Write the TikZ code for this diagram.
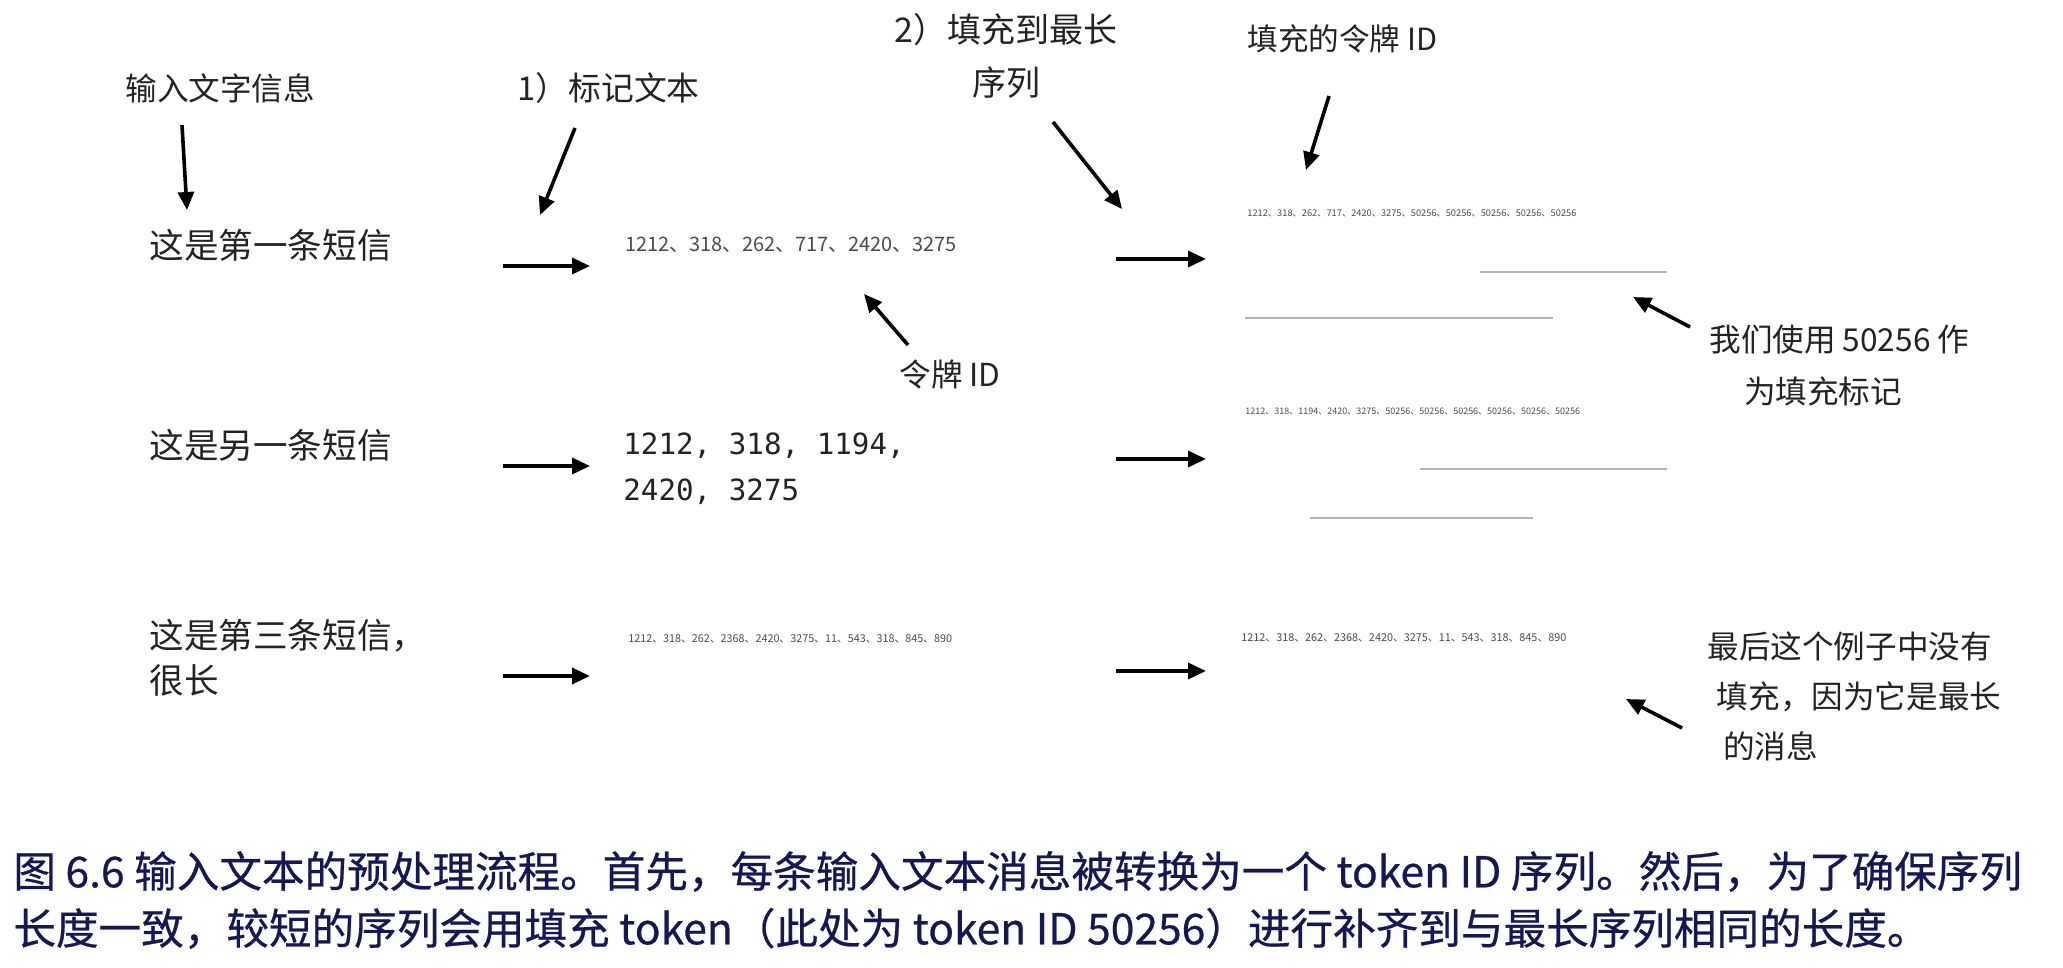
\documentclass[tikz,border=0pt]{standalone}
\usepackage{fontspec}
\setmainfont{Noto Sans CJK SC}
\setmonofont{DejaVu Sans Mono}
\newfontfamily\capfont[FakeBold=0.6]{Noto Sans CJK SC}
\usepackage{tikz}
\usetikzlibrary{arrows.meta, positioning}
\definecolor{mytext}{RGB}{35,35,35}
\definecolor{mytoken}{RGB}{75,75,75}
\definecolor{mycap}{RGB}{22,22,88}
\definecolor{mysmudge}{RGB}{130,130,130}
\tikzset{
  msgtext/.style={anchor=west, inner sep=0pt, font=\fontsize{17.3}{22.5}\selectfont, text=mytext},
  notetext/.style={anchor=west, inner sep=0pt, align=left, font=\fontsize{15.8}{25}\selectfont, text=mytext},
  tokentext/.style={anchor=west, inner sep=0pt, text=mytoken},
  codetext/.style={anchor=west, inner sep=0pt, align=left,
    font=\ttfamily\fontsize{14.6}{23}\selectfont, text=mytext},
  captext/.style={anchor=west, inner sep=0pt, align=left,
    font=\capfont\fontsize{21.3}{28.5}\selectfont, text=mycap},
  arrow/.style={-{Triangle[length=9pt,width=8pt]}, line width=1.8pt, color=black},
  smudge/.style={line width=1.2pt, color=mysmudge, opacity=0.6}
}

\begin{document}
\begin{tikzpicture}[x=0.5pt, y=-0.5pt]
  \useasboundingbox (0,0) rectangle (2063,968);

  % column headings
  \node[notetext] (input) at (125,88) {输入文字信息};
  \node[notetext, font=\fontsize{16.4}{20}\selectfont] (step1) at (517,88) {1）标记文本};
  \node[notetext, align=center, anchor=center, font=\fontsize{17}{26.5}\selectfont] (step2) at (1006,56) {2）填充到最长\\序列};
  \node[notetext, font=\fontsize{15.3}{20}\selectfont] (padid) at (1247,39) {填充的令牌 ID};

  % messages
  \node[msgtext] (msg1) at (149,245) {这是第一条短信};
  \node[msgtext] (msg2) at (149,445) {这是另一条短信};
  \node[msgtext, align=left] (msg3) at (149,658) {这是第三条短信，\\很长};

  % token ids
  \node[tokentext, font=\fontsize{9.95}{12}\selectfont] (tok1) at (625,245) {1212、318、262、717、2420、3275};
  \node[codetext] (tok2) at (623,469) {1212, 318, 1194,\\2420, 3275};
  \node[tokentext, font=\fontsize{5.4}{7}\selectfont] (tok3) at (628,639) {1212、318、262、2368、2420、3275、11、543、318、845、890};
  \node[notetext] (tokid) at (899,375) {令牌 ID};

  % padded sequences
  \node[tokentext, font=\fontsize{4.63}{6}\selectfont] (pad1) at (1247,213) {1212、318、262、717、2420、3275、50256、50256、50256、50256、50256};
  \node[tokentext, font=\fontsize{4.5}{6}\selectfont] (pad2) at (1245,411) {1212、318、1194、2420、3275、50256、50256、50256、50256、50256、50256};
  \node[tokentext, font=\fontsize{5.42}{7}\selectfont] (pad3) at (1241,638) {1212、318、262、2368、2420、3275、11、543、318、845、890};

  % side notes
  \node[notetext, font=\fontsize{15.8}{26}\selectfont] (note1) at (1709,365) {我们使用 50256 作\\\hspace{1.1em}为填充标记};
  \node[notetext] (note2) at (1707,696) {最后这个例子中没有\\\hspace{0.3em}填充，因为它是最长\\\hspace{0.5em}的消息};

  % leftover marks of the padded rows
  \draw[smudge] (1480,272) -- (1667,272);
  \draw[smudge] (1245,318) -- (1553,318);
  \draw[smudge] (1420,469) -- (1667,469);
  \draw[smudge] (1310,518) -- (1533,518);

  % arrow end points
  \coordinate (a1s) at (182,125);  \coordinate (a1e) at (187,210);
  \coordinate (a2s) at (575,128);  \coordinate (a2e) at (540,215);
  \coordinate (a3s) at (1053,122); \coordinate (a3e) at (1122,209);
  \coordinate (a4s) at (1329,96);  \coordinate (a4e) at (1306,170);
  \coordinate (a5s) at (908,345);  \coordinate (a5e) at (864,294);
  \coordinate (a6s) at (1690,327); \coordinate (a6e) at (1633,297);
  \coordinate (a7s) at (1682,728); \coordinate (a7e) at (1626,699);
  \coordinate (l1) at (503,266);  \coordinate (m1) at (590,266);
  \coordinate (l2) at (503,466);  \coordinate (m2) at (590,466);
  \coordinate (l3) at (503,676);  \coordinate (m3) at (590,676);
  \coordinate (r1) at (1116,259); \coordinate (s1) at (1206,259);
  \coordinate (r2) at (1116,459); \coordinate (s2) at (1206,459);
  \coordinate (r3) at (1116,671); \coordinate (s3) at (1206,671);

  \draw[arrow] (a1s) -- (a1e);
  \draw[arrow] (a2s) -- (a2e);
  \draw[arrow] (a3s) -- (a3e);
  \draw[arrow] (a4s) -- (a4e);
  \draw[arrow] (a5s) -- (a5e);
  \draw[arrow] (a6s) -- (a6e);
  \draw[arrow] (a7s) -- (a7e);
  \draw[arrow] (l1) -- (m1);
  \draw[arrow] (l2) -- (m2);
  \draw[arrow] (l3) -- (m3);
  \draw[arrow] (r1) -- (s1);
  \draw[arrow] (r2) -- (s2);
  \draw[arrow] (r3) -- (s3);

  % caption
  \node[captext] (caption) at (13,900) {图 6.6 输入文本的预处理流程。首先，每条输入文本消息被转换为一个 token ID 序列。然后，为了确保序列\\长度一致，较短的序列会用填充 token（此处为 token ID 50256）进行补齐到与最长序列相同的长度。};
\end{tikzpicture}
\end{document}
